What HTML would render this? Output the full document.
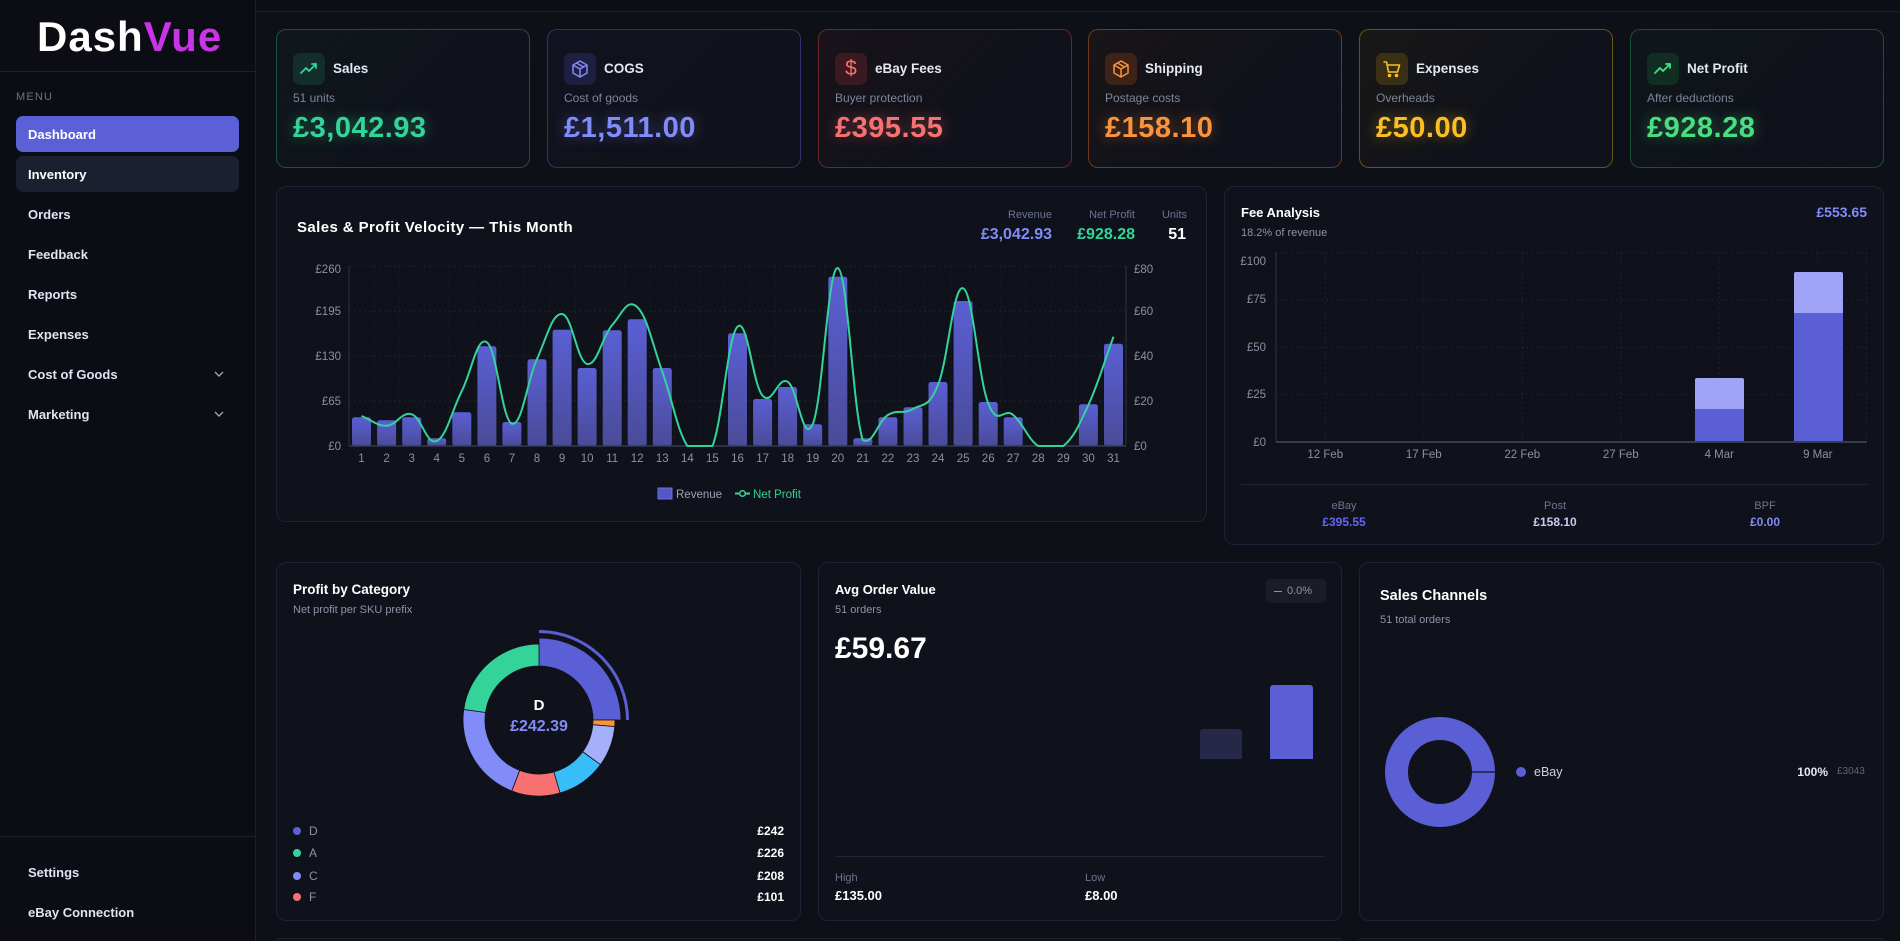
<!DOCTYPE html>
<html style="overflow:hidden;height:941px"><head><meta charset="utf-8"><style>
*{box-sizing:border-box;margin:0;padding:0}
body{width:1900px;height:941px;overflow:hidden;background:#0e1018;font-family:"Liberation Sans",sans-serif;color:#e6e9f2;position:relative}
.a{position:absolute;white-space:nowrap}
.t{position:absolute;white-space:nowrap;line-height:1}
.card{position:absolute;background:#10121b;border:1px solid #1f2236;border-radius:10px}
.nav{position:absolute;left:28px;font-size:13px;font-weight:bold;color:#dfe4f0;line-height:1}
.kt{font-size:13.5px;font-weight:bold;color:#e3e7f0}
.ks{font-size:12px;color:#7d8598}
.kv{font-size:29px;font-weight:bold;letter-spacing:0.5px}
.ib{position:absolute;width:32px;height:32px;border-radius:7px;top:53px}
</style></head><body>

<!-- sidebar -->
<div class="a" style="left:0;top:0;width:256px;height:941px;background:#0b0c14;border-right:1px solid #1b1e2c"></div>
<div class="a" style="left:0;top:71px;width:255px;height:1px;background:#1d2030"></div>
<div class="t" style="left:37px;top:16px;font-size:42px;font-weight:bold;letter-spacing:1px"><span style="color:#fff">Dash</span><span style="color:#c735e4">Vue</span></div>
<div class="t" style="left:16px;top:92px;font-size:11px;letter-spacing:1.2px;color:#6b7386">MENU</div>
<div class="a" style="left:16px;top:116px;width:223px;height:36px;border-radius:7px;background:#5b60d6"></div>
<div class="a" style="left:16px;top:156px;width:223px;height:36px;border-radius:7px;background:#1b2031"></div>
<div class="nav" style="top:127.5px;color:#fff">Dashboard</div>
<div class="nav" style="top:167.5px;color:#fff">Inventory</div>
<div class="nav" style="top:207.5px">Orders</div>
<div class="nav" style="top:247.5px">Feedback</div>
<div class="nav" style="top:287.5px">Reports</div>
<div class="nav" style="top:327.5px">Expenses</div>
<div class="nav" style="top:367.5px">Cost of Goods</div>
<div class="nav" style="top:407.5px">Marketing</div>
<div class="a" style="left:0;top:836px;width:255px;height:1px;background:#1d2030"></div>
<div class="nav" style="top:865.5px">Settings</div>
<div class="nav" style="top:905.5px">eBay Connection</div>

<!-- top strip -->
<div class="a" style="left:256px;top:0;width:1644px;height:12px;background:#0c0e16;border-bottom:1px solid #1b1e2d"></div>

<!-- KPI cards -->
<div class="card" style="left:276px;top:29px;width:254px;height:139px;border-color:rgba(52,211,153,0.32);background:linear-gradient(135deg,rgba(52,211,153,0.04),#10121b 60%)"></div>
<div class="card" style="left:547px;top:29px;width:254px;height:139px;border-color:rgba(99,102,241,0.38);background:linear-gradient(135deg,rgba(99,102,241,0.04),#10121b 60%)"></div>
<div class="card" style="left:818px;top:29px;width:254px;height:139px;border-color:rgba(239,68,68,0.4);background:linear-gradient(135deg,rgba(239,68,68,0.05),#10121b 60%)"></div>
<div class="card" style="left:1088px;top:29px;width:254px;height:139px;border-color:rgba(249,115,22,0.4);background:linear-gradient(135deg,rgba(249,115,22,0.05),#10121b 60%)"></div>
<div class="card" style="left:1359px;top:29px;width:254px;height:139px;border-color:rgba(234,179,8,0.4);background:linear-gradient(135deg,rgba(234,179,8,0.05),#10121b 60%)"></div>
<div class="card" style="left:1630px;top:29px;width:254px;height:139px;border-color:rgba(34,197,94,0.35);background:linear-gradient(135deg,rgba(34,197,94,0.04),#10121b 60%)"></div>

<div class="ib" style="left:293px;background:rgba(52,211,153,0.13)"></div>
<div class="ib" style="left:564px;background:rgba(99,102,241,0.16)"></div>
<div class="ib" style="left:835px;background:rgba(239,68,68,0.17)"></div>
<div class="ib" style="left:1105px;background:rgba(249,115,22,0.17)"></div>
<div class="ib" style="left:1376px;background:rgba(234,179,8,0.17)"></div>
<div class="ib" style="left:1647px;background:rgba(34,197,94,0.14)"></div>
<div class="t" style="left:845px;top:58px;font-size:21px;color:#f87171;width:12px;text-align:center">$</div>

<div class="t kt" style="left:333px;top:62px">Sales</div>
<div class="t kt" style="left:604px;top:62px">COGS</div>
<div class="t kt" style="left:875px;top:62px">eBay Fees</div>
<div class="t kt" style="left:1145px;top:62px">Shipping</div>
<div class="t kt" style="left:1416px;top:62px">Expenses</div>
<div class="t kt" style="left:1687px;top:62px">Net Profit</div>

<div class="t ks" style="left:293px;top:92px">51 units</div>
<div class="t ks" style="left:564px;top:92px">Cost of goods</div>
<div class="t ks" style="left:835px;top:92px">Buyer protection</div>
<div class="t ks" style="left:1105px;top:92px">Postage costs</div>
<div class="t ks" style="left:1376px;top:92px">Overheads</div>
<div class="t ks" style="left:1647px;top:92px">After deductions</div>

<div class="t kv" style="left:293px;top:114px;color:#34d399;text-shadow:0 0 14px rgba(52,211,153,0.45)">£3,042.93</div>
<div class="t kv" style="left:564px;top:114px;color:#818cf8;text-shadow:0 0 14px rgba(129,140,248,0.45)">£1,511.00</div>
<div class="t kv" style="left:835px;top:114px;color:#f87171;text-shadow:0 0 14px rgba(248,113,113,0.45)">£395.55</div>
<div class="t kv" style="left:1105px;top:114px;color:#fb923c;text-shadow:0 0 14px rgba(251,146,60,0.45)">£158.10</div>
<div class="t kv" style="left:1376px;top:114px;color:#fbbf24;text-shadow:0 0 14px rgba(251,191,36,0.45)">£50.00</div>
<div class="t kv" style="left:1647px;top:114px;color:#4ade80;text-shadow:0 0 14px rgba(74,222,128,0.45)">£928.28</div>

<!-- chart cards -->
<div class="card" style="left:276px;top:186px;width:931px;height:336px"></div>
<div class="card" style="left:1224px;top:186px;width:660px;height:359px"></div>
<div class="card" style="left:276px;top:562px;width:525px;height:359px"></div>
<div class="card" style="left:818px;top:562px;width:524px;height:359px"></div>
<div class="card" style="left:1359px;top:562px;width:525px;height:359px"></div>
<div class="a" style="left:276px;top:938px;width:1066px;height:3px;border:1px solid #1f2236;border-bottom:none;border-radius:10px 10px 0 0;background:#10121b"></div>
<div class="a" style="left:1359px;top:938px;width:525px;height:3px;border:1px solid #1f2236;border-bottom:none;border-radius:10px 10px 0 0;background:#10121b"></div>

<!-- sales chart header -->
<div class="t" style="left:297px;top:219.5px;font-size:15px;font-weight:bold;letter-spacing:0.4px;color:#fff">Sales &amp; Profit Velocity — This Month</div>
<div class="t" style="right:848px;top:209.5px;font-size:11px;color:#6b7490">Revenue</div>
<div class="t" style="right:765px;top:209.5px;font-size:11px;color:#6b7490">Net Profit</div>
<div class="t" style="right:713px;top:209.5px;font-size:11px;color:#6b7490">Units</div>
<div class="t" style="right:848px;top:227px;font-size:16px;font-weight:bold;color:#818cf8">£3,042.93</div>
<div class="t" style="right:765px;top:227px;font-size:16px;font-weight:bold;color:#34d399">£928.28</div>
<div class="t" style="right:714px;top:227px;font-size:16px;font-weight:bold;color:#fff">51</div>

<!-- fee card header -->
<div class="t" style="left:1241px;top:205.5px;font-size:13px;font-weight:bold;color:#fff">Fee Analysis</div>
<div class="t" style="left:1241px;top:227.5px;font-size:11px;color:#8b93a7">18.2% of revenue</div>
<div class="t" style="right:33px;top:205px;font-size:14px;font-weight:bold;color:#818cf8">£553.65</div>
<div class="t" style="left:1294px;top:500.5px;width:100px;text-align:center;font-size:11px;color:#6b7490">eBay</div>
<div class="t" style="left:1505px;top:500.5px;width:100px;text-align:center;font-size:11px;color:#6b7490">Post</div>
<div class="t" style="left:1715px;top:500.5px;width:100px;text-align:center;font-size:11px;color:#6b7490">BPF</div>
<div class="t" style="left:1294px;top:516px;width:100px;text-align:center;font-size:12px;font-weight:bold;color:#6366f1">£395.55</div>
<div class="t" style="left:1505px;top:516px;width:100px;text-align:center;font-size:12px;font-weight:bold;color:#c7cbf5">£158.10</div>
<div class="t" style="left:1715px;top:516px;width:100px;text-align:center;font-size:12px;font-weight:bold;color:#818cf8">£0.00</div>

<!-- profit by category -->
<div class="t" style="left:293px;top:582.5px;font-size:13.5px;font-weight:bold;color:#fff">Profit by Category</div>
<div class="t" style="left:293px;top:604.5px;font-size:11px;color:#8b93a7">Net profit per SKU prefix</div>
<div class="t" style="left:489px;top:697.5px;width:100px;text-align:center;font-size:15px;font-weight:bold;color:#fff">D</div>
<div class="t" style="left:489px;top:719px;width:100px;text-align:center;font-size:16px;font-weight:bold;color:#818cf8">£242.39</div>
<div class="t" style="left:309px;top:825px;font-size:12px;color:#8b93a7">D</div>
<div class="t" style="left:309px;top:847px;font-size:12px;color:#8b93a7">A</div>
<div class="t" style="left:309px;top:870px;font-size:12px;color:#8b93a7">C</div>
<div class="t" style="left:309px;top:891px;font-size:12px;color:#8b93a7">F</div>
<div class="t" style="right:1116px;top:825px;font-size:12px;font-weight:bold;color:#fff">£242</div>
<div class="t" style="right:1116px;top:847px;font-size:12px;font-weight:bold;color:#fff">£226</div>
<div class="t" style="right:1116px;top:870px;font-size:12px;font-weight:bold;color:#fff">£208</div>
<div class="t" style="right:1116px;top:891px;font-size:12px;font-weight:bold;color:#fff">£101</div>

<!-- avg order value -->
<div class="t" style="left:835px;top:582.5px;font-size:13px;font-weight:bold;color:#fff">Avg Order Value</div>
<div class="t" style="left:835px;top:604.5px;font-size:11px;color:#8b93a7">51 orders</div>
<div class="t" style="left:835px;top:634px;font-size:30px;font-weight:bold;color:#fff">£59.67</div>
<div class="a" style="left:1266px;top:579px;width:60px;height:24px;border-radius:4px;background:#1a1d28"></div>
<div class="a" style="left:1274px;top:590.5px;width:8px;height:1.5px;background:#8b93a7"></div>
<div class="t" style="left:1287px;top:585.5px;font-size:11px;color:#8b93a7">0.0%</div>
<div class="a" style="left:1200px;top:729px;width:42px;height:30px;border-radius:3px 3px 0 0;background:#252846"></div>
<div class="a" style="left:1270px;top:685px;width:43px;height:74px;border-radius:3px 3px 0 0;background:#5b5fd6"></div>
<div class="a" style="left:835px;top:856px;width:490px;height:1px;background:#23263a"></div>
<div class="t" style="left:835px;top:872.5px;font-size:11px;color:#6b7490">High</div>
<div class="t" style="left:1085px;top:872.5px;font-size:11px;color:#6b7490">Low</div>
<div class="t" style="left:835px;top:888.5px;font-size:13px;font-weight:bold;color:#fff">£135.00</div>
<div class="t" style="left:1085px;top:888.5px;font-size:13px;font-weight:bold;color:#fff">£8.00</div>

<!-- sales channels -->
<div class="t" style="left:1380px;top:588.5px;font-size:14.5px;font-weight:bold;color:#fff">Sales Channels</div>
<div class="t" style="left:1380px;top:614.5px;font-size:11px;color:#8b93a7">51 total orders</div>
<div class="t" style="left:1534px;top:765.5px;font-size:12.5px;color:#cbd2e0">eBay</div>
<div class="t" style="right:72px;top:766px;font-size:12px;font-weight:bold;color:#e6e9f2">100%</div>
<div class="t" style="left:1837px;top:767px;font-size:10px;color:#5d6578">£3043</div>

<svg class="a" style="left:0;top:0" width="1900" height="941" viewBox="0 0 1900 941" font-family="Liberation Sans, sans-serif">
<defs>
<linearGradient id="bg1" x1="0" y1="0" x2="0" y2="1"><stop offset="0" stop-color="#5a5fd3"/><stop offset="1" stop-color="#4a4b98"/></linearGradient>
</defs>
<polyline points="215,372 219,376 223,372" fill="none" stroke="#9aa3b5" stroke-width="1.4"/>
<polyline points="215,412 219,416 223,412" fill="none" stroke="#9aa3b5" stroke-width="1.4"/>

<g fill="none" stroke-width="1.8" stroke-linecap="round" stroke-linejoin="round">
<g transform="translate(293,53)" stroke="#34d399"><polyline points="8,20 13,15 16,18 23,11"/><polyline points="19,11 23,11 23,15"/></g>
<g transform="translate(564,53)" stroke="#818cf8" stroke-width="1.5"><path d="M16 8 L23 12 L23 20 L16 24 L9 20 L9 12 Z M9 12 L16 16 L23 12 M16 16 V24 M12.5 10 L19.5 14"/></g>
<g transform="translate(1105,53)" stroke="#fb923c" stroke-width="1.5"><path d="M16 8 L23 12 L23 20 L16 24 L9 20 L9 12 Z M9 12 L16 16 L23 12 M16 16 V24 M12.5 10 L19.5 14"/></g>
<g transform="translate(1376,53)" stroke="#fbbf24" stroke-width="1.6"><path d="M8 9 H10.5 L12.5 19 H21.5 L23.5 12 H11"/><circle cx="13.5" cy="22.5" r="1" fill="#fbbf24"/><circle cx="20.5" cy="22.5" r="1" fill="#fbbf24"/></g>
<g transform="translate(1647,53)" stroke="#4ade80"><polyline points="8,20 13,15 16,18 23,11"/><polyline points="19,11 23,11 23,15"/></g>
</g>

<g stroke="rgba(255,255,255,0.07)" stroke-dasharray="2 3" stroke-width="1">
<line x1="349" y1="266" x2="1126" y2="266"/><line x1="349" y1="311" x2="1126" y2="311"/><line x1="349" y1="356" x2="1126" y2="356"/><line x1="349" y1="401" x2="1126" y2="401"/>
</g>
<g stroke="rgba(255,255,255,0.045)" stroke-dasharray="2 3" stroke-width="1">
<line x1="374" y1="266" x2="374" y2="446"/><line x1="399" y1="266" x2="399" y2="446"/><line x1="424" y1="266" x2="424" y2="446"/><line x1="449" y1="266" x2="449" y2="446"/><line x1="474" y1="266" x2="474" y2="446"/><line x1="499" y1="266" x2="499" y2="446"/><line x1="524" y1="266" x2="524" y2="446"/><line x1="550" y1="266" x2="550" y2="446"/><line x1="575" y1="266" x2="575" y2="446"/><line x1="600" y1="266" x2="600" y2="446"/><line x1="625" y1="266" x2="625" y2="446"/><line x1="650" y1="266" x2="650" y2="446"/><line x1="675" y1="266" x2="675" y2="446"/><line x1="700" y1="266" x2="700" y2="446"/><line x1="725" y1="266" x2="725" y2="446"/><line x1="750" y1="266" x2="750" y2="446"/><line x1="775" y1="266" x2="775" y2="446"/><line x1="800" y1="266" x2="800" y2="446"/><line x1="825" y1="266" x2="825" y2="446"/><line x1="850" y1="266" x2="850" y2="446"/><line x1="875" y1="266" x2="875" y2="446"/><line x1="900" y1="266" x2="900" y2="446"/><line x1="925" y1="266" x2="925" y2="446"/><line x1="951" y1="266" x2="951" y2="446"/><line x1="976" y1="266" x2="976" y2="446"/><line x1="1001" y1="266" x2="1001" y2="446"/><line x1="1026" y1="266" x2="1026" y2="446"/><line x1="1051" y1="266" x2="1051" y2="446"/><line x1="1076" y1="266" x2="1076" y2="446"/><line x1="1101" y1="266" x2="1101" y2="446"/>
</g>
<g fill="url(#bg1)">
<rect x="352" y="417.3" width="19" height="28.7" rx="2.5"/>
<rect x="377.1" y="420.3" width="19" height="25.7" rx="2.5"/>
<rect x="402.2" y="417.3" width="19" height="28.7" rx="2.5"/>
<rect x="427.2" y="438.3" width="19" height="7.7" rx="2.5"/>
<rect x="452.3" y="412.3" width="19" height="33.7" rx="2.5"/>
<rect x="477.4" y="346.3" width="19" height="99.7" rx="2.5"/>
<rect x="502.4" y="422" width="19" height="24" rx="2.5"/>
<rect x="527.5" y="359.3" width="19" height="86.7" rx="2.5"/>
<rect x="552.6" y="329.7" width="19" height="116.3" rx="2.5"/>
<rect x="577.6" y="368" width="19" height="78" rx="2.5"/>
<rect x="602.7" y="330.3" width="19" height="115.7" rx="2.5"/>
<rect x="627.7" y="319.3" width="19" height="126.7" rx="2.5"/>
<rect x="652.8" y="368" width="19" height="78" rx="2.5"/>
<rect x="728" y="333.3" width="19" height="112.7" rx="2.5"/>
<rect x="753.1" y="399" width="19" height="47" rx="2.5"/>
<rect x="778.1" y="387" width="19" height="59" rx="2.5"/>
<rect x="803.2" y="424.3" width="19" height="21.7" rx="2.5"/>
<rect x="828.3" y="276.7" width="19" height="169.3" rx="2.5"/>
<rect x="853.3" y="438.3" width="19" height="7.7" rx="2.5"/>
<rect x="878.4" y="417.3" width="19" height="28.7" rx="2.5"/>
<rect x="903.5" y="407.3" width="19" height="38.7" rx="2.5"/>
<rect x="928.5" y="382" width="19" height="64" rx="2.5"/>
<rect x="953.6" y="301" width="19" height="145" rx="2.5"/>
<rect x="978.7" y="402" width="19" height="44" rx="2.5"/>
<rect x="1003.7" y="417.3" width="19" height="28.7" rx="2.5"/>
<rect x="1078.9" y="404.3" width="19" height="41.7" rx="2.5"/>
<rect x="1104" y="343.7" width="19" height="102.3" rx="2.5"/>
</g>
<line x1="349" y1="266" x2="349" y2="446" stroke="#2b3045" stroke-width="1"/>
<line x1="1126" y1="266" x2="1126" y2="446" stroke="#2b3045" stroke-width="1"/>
<line x1="349" y1="446" x2="1126" y2="446" stroke="#363b52" stroke-width="1.5"/>
<path fill="none" stroke="#34d399" stroke-width="2" stroke-linejoin="round" d="M361.5,416 C371.5,419.9 376.6,426.0 386.6,425.7 C396.6,425.4 401.7,411.2 411.7,414.3 C421.7,417.4 426.7,445.7 436.7,441 C446.7,436.3 451.8,410.7 461.8,391 C471.8,371.3 476.9,335.8 486.9,342.3 C496.9,348.8 501.9,420.4 511.9,423.7 C521.9,427.0 527.0,380.9 537.0,359 C547.0,337.1 552.1,313.0 562.1,314 C572.1,315.0 577.1,361.8 587.1,364 C597.1,366.2 602.2,336.4 612.2,325 C622.2,313.6 627.2,297.7 637.2,307 C647.2,316.3 652.3,343.9 662.3,371.7 C672.3,399.5 677.4,431.1 687.4,446 C697.4,446 702.4,446 712.4,446 C722.4,422.1 727.5,336.8 737.5,326.7 C747.5,316.6 752.6,384.7 762.6,395.7 C772.6,406.7 777.6,376.0 787.6,381.7 C797.6,387.4 802.7,446 812.7,424.3 C822.7,401.6 827.8,266 837.8,268 C847.8,271.1 852.8,410.6 862.8,440 C872.8,446 877.9,421.2 887.9,415 C897.9,408.8 903.0,415.0 913.0,409 C923.0,403.0 928.0,409.1 938.0,385 C948.0,360.9 953.1,284.6 963.1,288.3 C973.1,292.0 978.2,378.0 988.2,403.3 C998.2,428.6 1003.2,406.5 1013.2,415 C1023.2,423.5 1028.3,439.8 1038.3,446 C1048.3,446 1053.4,446 1063.4,446 C1073.4,437.8 1078.4,426.9 1088.4,405 C1098.4,383.1 1103.5,364.0 1113.5,336.7"/>
<g font-size="11.5" fill="#8a91a5" text-anchor="end">
<text x="341" y="273">£260</text><text x="341" y="315">£195</text><text x="341" y="360">£130</text><text x="341" y="405">£65</text><text x="341" y="450">£0</text>
</g>
<g font-size="11.5" fill="#8a91a5">
<text x="1134" y="273">£80</text><text x="1134" y="315">£60</text><text x="1134" y="360">£40</text><text x="1134" y="405">£20</text><text x="1134" y="450">£0</text>
</g>
<g font-size="11.5" fill="#8a91a5" text-anchor="middle">
<text x="361.5" y="462">1</text><text x="386.6" y="462">2</text><text x="411.7" y="462">3</text><text x="436.7" y="462">4</text><text x="461.8" y="462">5</text><text x="486.9" y="462">6</text><text x="511.9" y="462">7</text><text x="537" y="462">8</text><text x="562.1" y="462">9</text><text x="587.1" y="462">10</text><text x="612.2" y="462">11</text><text x="637.2" y="462">12</text><text x="662.3" y="462">13</text><text x="687.4" y="462">14</text><text x="712.4" y="462">15</text><text x="737.5" y="462">16</text><text x="762.6" y="462">17</text><text x="787.6" y="462">18</text><text x="812.7" y="462">19</text><text x="837.8" y="462">20</text><text x="862.8" y="462">21</text><text x="887.9" y="462">22</text><text x="913" y="462">23</text><text x="938" y="462">24</text><text x="963.1" y="462">25</text><text x="988.2" y="462">26</text><text x="1013.2" y="462">27</text><text x="1038.3" y="462">28</text><text x="1063.4" y="462">29</text><text x="1088.4" y="462">30</text><text x="1113.5" y="462">31</text>
</g>
<rect x="658" y="488" width="14" height="11" fill="#5558c4" stroke="#6a6fe0" stroke-width="1"/>
<text x="676" y="498" font-size="11.5" fill="#9aa3b5">Revenue</text>
<line x1="735" y1="493.5" x2="750" y2="493.5" stroke="#34d399" stroke-width="2"/>
<circle cx="742.5" cy="493.5" r="2.8" fill="#10121b" stroke="#34d399" stroke-width="1.5"/>
<text x="753" y="498" font-size="11.5" fill="#34d399">Net Profit</text>

<g stroke="rgba(255,255,255,0.07)" stroke-dasharray="2 3" stroke-width="1">
<line x1="1276" y1="252.7" x2="1867" y2="252.7"/><line x1="1276" y1="300" x2="1867" y2="300"/><line x1="1276" y1="347.3" x2="1867" y2="347.3"/><line x1="1276" y1="394.7" x2="1867" y2="394.7"/>
<line x1="1325.3" y1="252" x2="1325.3" y2="442"/><line x1="1423.8" y1="252" x2="1423.8" y2="442"/><line x1="1522.3" y1="252" x2="1522.3" y2="442"/><line x1="1620.8" y1="252" x2="1620.8" y2="442"/><line x1="1719.3" y1="252" x2="1719.3" y2="442"/><line x1="1817.8" y1="252" x2="1817.8" y2="442"/><line x1="1866.5" y1="252" x2="1866.5" y2="442"/>
</g>
<rect x="1695" y="409" width="49" height="33" fill="#5b5fd6"/>
<path d="M1695,409 V380 Q1695,378 1697,378 H1742 Q1744,378 1744,380 V409 Z" fill="#a0a4f8"/>
<rect x="1794" y="313" width="49" height="129" fill="#5b5fd6"/>
<path d="M1794,313 V274 Q1794,272 1796,272 H1841 Q1843,272 1843,274 V313 Z" fill="#a0a4f8"/>
<line x1="1276" y1="252" x2="1276" y2="442" stroke="#2b3045" stroke-width="1"/>
<line x1="1276" y1="442" x2="1867" y2="442" stroke="#363b52" stroke-width="2"/>
<g font-size="11.5" fill="#8a91a5" text-anchor="end">
<text x="1266" y="265">£100</text><text x="1266" y="303">£75</text><text x="1266" y="351">£50</text><text x="1266" y="398">£25</text><text x="1266" y="446">£0</text>
</g>
<g font-size="11.5" fill="#8a91a5" text-anchor="middle">
<text x="1325.3" y="458">12 Feb</text><text x="1423.8" y="458">17 Feb</text><text x="1522.3" y="458">22 Feb</text><text x="1620.8" y="458">27 Feb</text><text x="1719.3" y="458">4 Mar</text><text x="1817.8" y="458">9 Mar</text>
</g>
<line x1="1241" y1="484.5" x2="1867" y2="484.5" stroke="#23263a" stroke-width="1"/>

<g stroke="#10121b" stroke-width="0.8">
<path d="M539,638 A82,82 0 0 1 621,720 L593,720 A54,54 0 0 0 539,666 Z" fill="#5b5fd6"/>
<path d="M615,720 A76,76 0 0 1 614.71,726.63 L592.79,724.71 A54,54 0 0 0 593,720 Z" fill="#fb923c"/>
<path d="M614.71,726.63 A76,76 0 0 1 600.48,764.67 L582.69,751.74 A54,54 0 0 0 592.79,724.71 Z" fill="#a5b0fc"/>
<path d="M600.48,764.67 A76,76 0 0 1 559.95,793.06 L553.88,771.91 A54,54 0 0 0 582.69,751.74 Z" fill="#38bdf8"/>
<path d="M559.95,793.06 A76,76 0 0 1 511.76,790.95 L519.65,770.41 A54,54 0 0 0 553.88,771.91 Z" fill="#f87171"/>
<path d="M511.76,790.95 A76,76 0 0 1 463.74,709.42 L485.52,712.48 A54,54 0 0 0 519.65,770.41 Z" fill="#818cf8"/>
<path d="M463.74,709.42 A76,76 0 0 1 539,644 L539,666 A54,54 0 0 0 485.52,712.48 Z" fill="#34d399"/>
</g>
<path d="M539,631.5 A88.5,88.5 0 0 1 627.5,720" fill="none" stroke="#5b5fd6" stroke-width="3"/>
<circle cx="297" cy="831" r="4" fill="#5b5fd6"/>
<circle cx="297" cy="853" r="4" fill="#34d399"/>
<circle cx="297" cy="876" r="4" fill="#818cf8"/>
<circle cx="297" cy="897" r="4" fill="#f87171"/>

<circle cx="1440" cy="772" r="43.5" fill="none" stroke="#5b5fd6" stroke-width="23"/>
<line x1="1472" y1="772" x2="1496" y2="772" stroke="#10121b" stroke-width="1.2"/>
<circle cx="1521" cy="772" r="5" fill="#5b5fd6"/>
</svg>
</body></html>
